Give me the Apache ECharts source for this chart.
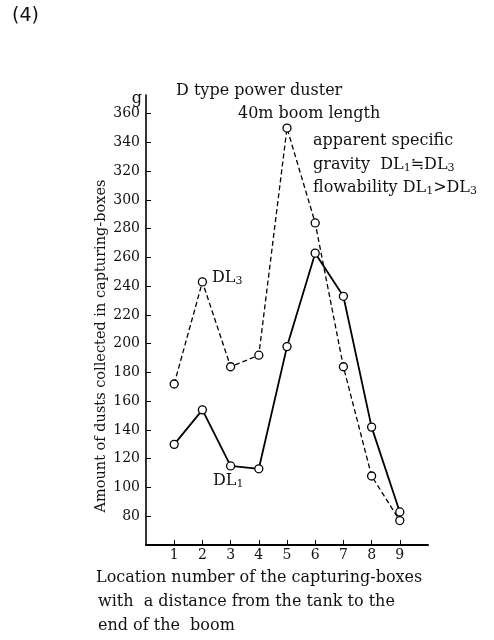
<!DOCTYPE html>
<html>
<head>
<meta charset="utf-8">
<script src="https://cdn.jsdelivr.net/npm/echarts@6/dist/echarts.min.js"></script>
<style>
html,body{margin:0;padding:0;background:#fff;}
#c{width:494px;height:640px;}
</style>
</head>
<body>
<div id="c"></div>
<script>
var locations = [1, 2, 3, 4, 5, 6, 7, 8, 9];
var dl1 = [130, 154, 115, 113, 198, 263, 233, 142, 83];
var dl3 = [172, 243, 184, 192, 350, 284, 184, 108, 77];
var yTicks = [80, 100, 120, 140, 160, 180, 200, 220, 240, 260, 280, 300, 320, 340, 360];

var serif = '"DejaVu Serif", "Liberation Serif", serif';
var fs = 16;
function pairs(v) { return locations.map(function (x, i) { return [x, v[i]]; }); }

var chart = echarts.init(document.getElementById('c'), null, {renderer: 'canvas'});
var textColor = '#111';
var F = fs + 'px ' + serif;
var rich = {a: {font: F, fill: textColor}, s: {font: '11px ' + serif, fill: textColor, padding: [7, 0, 0, 0]}};
function t(x, y, s, extra) {
  var st = {text: s, font: F, fill: textColor, verticalAlign: 'middle'};
  if (extra) for (var k in extra) st[k] = extra[k];
  return {type: 'text', x: x, y: y, style: st};
}
chart.setOption({
  animation: false,
  backgroundColor: '#fff',
  grid: {left: 146, right: 66, top: 95, bottom: 95},
  xAxis: {
    type: 'value', min: 0, max: 10, interval: 1,
    axisLine: {lineStyle: {color: '#000', width: 2}},
    axisTick: {inside: true, length: 5, customValues: locations, lineStyle: {color: '#000', width: 1}},
    axisLabel: {customValues: locations, color: textColor, fontFamily: serif, fontSize: 14, margin: 3},
    splitLine: {show: false}
  },
  yAxis: {
    type: 'value', min: 60, max: 373, interval: 20,
    axisLine: {show: true, lineStyle: {color: '#000', width: 1.6}},
    axisTick: {show: true, inside: true, length: 5, customValues: yTicks, lineStyle: {color: '#000', width: 1}},
    axisLabel: {customValues: yTicks, color: textColor, fontFamily: serif, fontSize: 14, margin: 6},
    splitLine: {show: false}
  },
  graphic: [
    {type: 'text', left: 12, top: 7, style: {text: '(4)', font: '19px "DejaVu Sans", sans-serif', fill: '#111'}},
    t(142, 99, 'g', {align: 'right'}),
    {type: 'text', x: 101, y: 346, rotation: Math.PI / 2, style: {text: 'Amount of dusts collected in capturing-boxes', font: '14.5px ' + serif, fill: textColor, align: 'center', verticalAlign: 'middle'}},
    t(176, 91, 'D type power duster'),
    t(238, 114, '40m boom length'),
    t(313, 141, 'apparent specific'),
    t(313, 165, '{a|gravity  DL}{s|1}{a|\u2252DL}{s|3}', {rich: rich}),
    t(313, 188, '{a|flowability DL}{s|1}{a|>DL}{s|3}', {rich: rich}),
    t(212, 278, '{a|DL}{s|3}', {rich: rich}),
    t(213, 481, '{a|DL}{s|1}', {rich: rich}),
    t(96, 578, 'Location number of the capturing-boxes'),
    t(98, 602, 'with  a distance from the tank to the'),
    t(98, 626, 'end of the  boom')
  ],
  series: [
    {
      name: 'DL3', type: 'line', data: pairs(dl3),
      symbol: 'circle', symbolSize: 8,
      itemStyle: {color: '#fff', borderColor: '#000', borderWidth: 1.3},
      lineStyle: {color: '#000', width: 1.3, type: [5, 3]},
      z: 3
    },
    {
      name: 'DL1', type: 'line', data: pairs(dl1),
      symbol: 'circle', symbolSize: 8,
      itemStyle: {color: '#fff', borderColor: '#000', borderWidth: 1.3},
      lineStyle: {color: '#000', width: 1.8},
      z: 4
    }
  ]
});
</script>
</body>
</html>
